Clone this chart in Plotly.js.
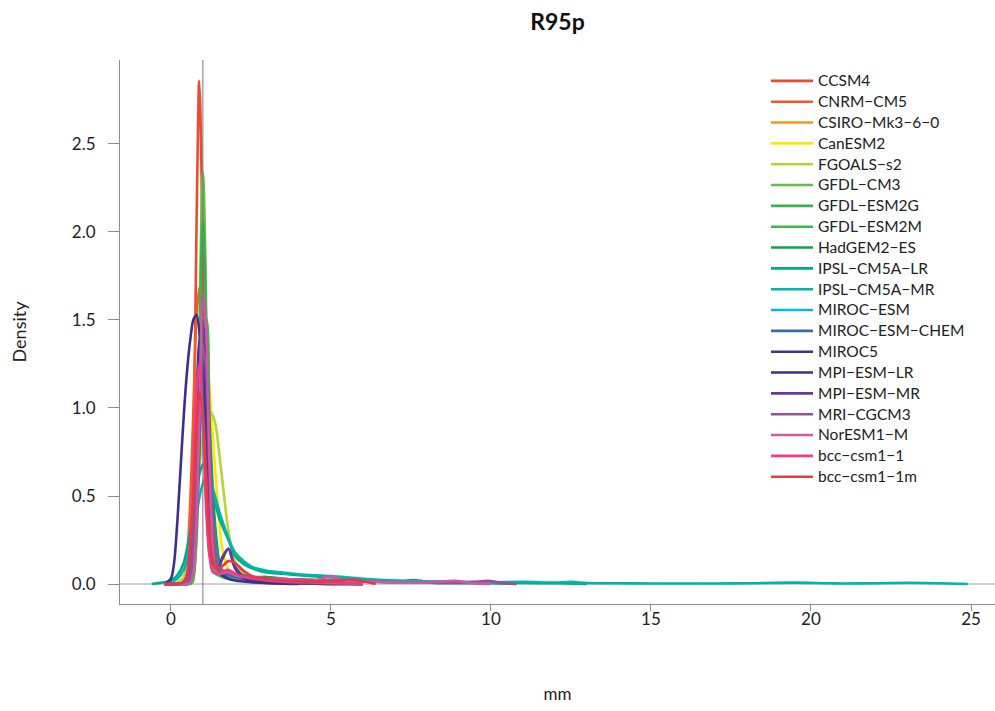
<!DOCTYPE html>
<html>
<head>
<meta charset="utf-8">
<script src="https://cdn.plot.ly/plotly-3.0.1.min.js"></script>
<style>html,body{margin:0;padding:0;background:#fff;}#chart{width:995px;height:711px;}</style>
</head>
<body>
<div id="chart"></div>
<script>
// ---- data ----
const modelNames = ["CCSM4","CNRM\u2212CM5","CSIRO\u2212Mk3\u22126\u22120","CanESM2","FGOALS\u2212s2","GFDL\u2212CM3","GFDL\u2212ESM2G","GFDL\u2212ESM2M","HadGEM2\u2212ES","IPSL\u2212CM5A\u2212LR","IPSL\u2212CM5A\u2212MR","MIROC\u2212ESM","MIROC\u2212ESM\u2212CHEM","MIROC5","MPI\u2212ESM\u2212LR","MPI\u2212ESM\u2212MR","MRI\u2212CGCM3","NorESM1\u2212M","bcc\u2212csm1\u22121","bcc\u2212csm1\u22121m"];

const xGrid = [-0.2,0,0.2,0.4,0.5,0.6,0.7,0.8,0.9,1.0,1.1,1.2,1.3,1.4,1.5,1.6,1.8,2.0,2.3,2.6,3.0,3.5,4.0,5.0,6.0];

const ccsm4X = [0.45,0.55,0.6,0.65,0.7,0.75,0.8,0.85,0.88,0.92,0.96,1.0,1.05,1.1,1.15,1.2,1.3,1.5,1.8,2.2,2.8,3.5,4.5,5.2];
const ccsm4Y = [0.01,0.05,0.13,0.33,0.71,1.31,2.02,2.62,2.86,2.7,2.3,1.75,1.1,0.62,0.33,0.18,0.1,0.06,0.04,0.03,0.02,0.01,0.005,0];

const cnrmY = [0,0,0,0.03,0.14,0.44,0.97,1.52,1.69,1.42,0.93,0.5,0.24,0.12,0.08,0.06,0.05,0.04,0.03,0.02,0.02,0.01,0.01,0.005,0];
const csiroY = [0,0,0,0.03,0.11,0.29,0.59,0.93,1.14,1.08,0.80,0.46,0.21,0.10,0.055,0.05,0.04,0.03,0.03,0.02,0.015,0.01,0.005,0.003,0];
const canesmY = [0,0,0,0,0.02,0.09,0.28,0.64,1.08,1.34,1.30,1.13,0.87,0.61,0.38,0.21,0.08,0.05,0.03,0.02,0.01,0.01,0.005,0,0];
const fgoalsY = [0,0,0.007,0.04,0.09,0.18,0.32,0.50,0.68,0.84,0.94,0.98,0.96,0.90,0.76,0.60,0.30,0.13,0.05,0.03,0.02,0.01,0.01,0.005,0];

const gfdlcm3X = [0.6,0.68,0.73,0.78,0.83,0.88,0.93,0.98,1.0,1.03,1.08,1.13,1.18,1.23,1.28,1.38,1.48,1.68,2.0,2.5,3.0,4.0,5.0];
const gfdlcm3Y = [0,0.01,0.06,0.21,0.55,1.14,1.83,2.29,2.34,2.25,1.80,1.16,0.61,0.29,0.13,0.06,0.05,0.04,0.03,0.02,0.01,0.005,0];

const gfdlesm2gX = [0.6,0.7,0.75,0.8,0.85,0.9,0.95,1.0,1.05,1.1,1.15,1.2,1.25,1.3,1.4,1.5,1.7,2.0,2.5,3,4,5,6];
const gfdlesm2gY = [0,0.05,0.16,0.40,0.82,1.37,1.87,2.07,1.90,1.46,0.95,0.52,0.27,0.13,0.07,0.05,0.04,0.03,0.02,0.01,0.005,0.003,0];

const gfdlesm2mY = [0,0,0,0,0,0,0.04,0.25,0.82,1.49,1.51,0.97,0.40,0.14,0.05,0.04,0.03,0.03,0.02,0.02,0.01,0.01,0.005,0,0];

const hadgemX = [-0.2,0,0.2,0.4,0.5,0.6,0.7,0.8,0.9,1.0,1.1,1.2,1.3,1.4,1.5,1.6,1.8,2.0,2.3,2.6,3.0,3.5,4.0,5.0,6.0,7.0,7.6,8.2,9.0,10.0,10.8];
const hadgemY = [0,0,0,0.01,0.03,0.10,0.27,0.57,0.94,1.21,1.21,0.94,0.57,0.30,0.14,0.08,0.06,0.05,0.05,0.04,0.04,0.03,0.025,0.02,0.015,0.01,0.022,0.006,0.005,0.004,0];

const ipsllrX = [-0.6,-0.4,-0.2,0,0.2,0.4,0.6,0.7,0.8,0.9,1.0,1.05,1.2,1.5,1.8,2.0,2.3,2.6,3.0,3.5,4.0,5.0,6.0,7.0,8.0,9.0,10.0,11.0,12.0,13.0];
const ipsllrY = [0,0.005,0.01,0.02,0.05,0.12,0.3,0.42,0.54,0.63,0.68,0.68,0.6,0.38,0.25,0.16,0.11,0.085,0.065,0.058,0.05,0.037,0.025,0.018,0.012,0.01,0.008,0.006,0.004,0];

const ipslmrX = [-0.2,0,0.2,0.4,0.6,0.8,0.9,1.0,1.1,1.2,1.3,1.5,1.8,2.0,2.5,3.0,3.5,4.0,5.0,6.0,7.0,8.0,9.0,10.0,11.0,12.0,12.5,13.0,14.0,15.0,16.0,17.0,18.0,19.5,20.5,21.0,22.0,23.0,24.0,24.9];
const ipslmrY = [0,0.01,0.03,0.08,0.2,0.4,0.5,0.57,0.61,0.6,0.55,0.42,0.26,0.18,0.1,0.075,0.065,0.055,0.045,0.03,0.02,0.015,0.012,0.01,0.012,0.008,0.012,0.006,0.004,0.003,0.003,0.003,0.004,0.008,0.004,0.003,0.004,0.007,0.004,0];

const mirocesmY = [0,0,0,0,0,0.03,0.14,0.45,0.97,1.32,1.17,0.71,0.29,0.12,0.06,0.05,0.05,0.04,0.03,0.02,0.015,0.01,0.005,0.003,0];
const mirocchemY = [0,0,0,0,0,0.02,0.10,0.35,0.80,1.18,1.24,0.83,0.38,0.14,0.07,0.05,0.05,0.04,0.03,0.02,0.02,0.01,0.005,0.003,0];
const miroc5Y = [0,0,0,0.01,0.04,0.19,0.54,1.06,1.39,1.24,0.74,0.30,0.12,0.11,0.10,0.14,0.20,0.09,0.03,0.02,0.01,0.01,0.005,0,0];

const mpilrX = [-0.2,0,0.1,0.2,0.3,0.4,0.5,0.6,0.7,0.8,0.9,1.0,1.1,1.2,1.3,1.4,1.5,1.6,1.8,2.0,2.5,3.0,4.0];
const mpilrY = [0,0.03,0.12,0.35,0.65,0.95,1.2,1.38,1.5,1.53,1.42,1.2,0.85,0.52,0.3,0.15,0.08,0.05,0.03,0.02,0.01,0.005,0];

const mpimrY = [0,0,0,0,0,0.03,0.15,0.54,1.16,1.5,1.16,0.54,0.18,0.11,0.10,0.15,0.20,0.10,0.04,0.03,0.02,0.01,0.005,0,0];

const mriX = [-0.2,0,0.2,0.4,0.5,0.6,0.7,0.8,0.9,1.0,1.1,1.2,1.3,1.4,1.5,1.6,1.8,2.0,2.3,2.6,3.0,3.5,4.0,5.0,6.0,7.0,8.0,9.0,9.5,9.9,10.3,10.8];
const mriY = [0,0,0,0,0.01,0.05,0.21,0.54,1.01,1.33,1.24,0.82,0.38,0.17,0.08,0.07,0.06,0.05,0.04,0.04,0.03,0.03,0.025,0.02,0.015,0.01,0.008,0.008,0.012,0.018,0.008,0];

const noresmX = [0.2,0.5,0.6,0.7,0.8,0.9,1.0,1.1,1.2,1.3,1.4,1.5,1.6,1.8,2.0,2.3,2.6,3.0,3.5,4.0,4.5,5.0,5.4,6.0,7.0,8.0,8.9,9.4,10.0];
const noresmY = [0,0,0.01,0.07,0.35,1.03,1.65,1.46,0.72,0.23,0.08,0.06,0.06,0.07,0.05,0.04,0.04,0.03,0.03,0.02,0.02,0.045,0.02,0.015,0.01,0.008,0.018,0.005,0];

const bcc1Y = [0,0,0,0.01,0.05,0.22,0.62,1.10,1.26,0.92,0.43,0.17,0.07,0.06,0.06,0.07,0.08,0.06,0.04,0.03,0.02,0.015,0.01,0.005,0];

const bcc1mX = [-0.2,0,0.2,0.4,0.5,0.6,0.7,0.8,0.9,1.0,1.1,1.2,1.3,1.4,1.5,1.6,1.8,2.0,2.3,2.6,3.0,3.5,4.0,5.0,5.7,6.4];
const bcc1mY = [0,0,0,0.01,0.05,0.19,0.48,0.86,1.09,0.98,0.63,0.28,0.14,0.09,0.09,0.10,0.13,0.12,0.07,0.04,0.03,0.02,0.015,0.015,0.025,0];

const seriesX = [ccsm4X, xGrid, xGrid, xGrid, xGrid, gfdlcm3X, gfdlesm2gX, xGrid, hadgemX, ipsllrX, ipslmrX, xGrid, xGrid, xGrid, mpilrX, xGrid, mriX, noresmX, xGrid, bcc1mX];
const seriesY = [ccsm4Y, cnrmY, csiroY, canesmY, fgoalsY, gfdlcm3Y, gfdlesm2gY, gfdlesm2mY, hadgemY, ipsllrY, ipslmrY, mirocesmY, mirocchemY, miroc5Y, mpilrY, mpimrY, mriY, noresmY, bcc1Y, bcc1mY];

const xTicks = [0,5,10,15,20,25];
const yTicks = [0,0.5,1,1.5,2,2.5];
const yTickText = ["0.0","0.5","1.0","1.5","2.0","2.5"];

// ---- styling ----
const colors = ['#EB4B30','#F25C24','#F7941D','#FFE800','#B6D433','#6ABD45','#36B44A','#3DB64B','#0BA64E','#00AC83','#00B4AE','#00BAF2','#3A67B1','#3C3591','#3D2F8E','#6A3896','#9B4D9F','#D057A4','#EE3D86','#EA3843'];
const FONT = 'Lato, "Noto Sans", sans-serif';

const traces = modelNames.map((name, i) => ({
  type: 'scatter', mode: 'lines',
  name: '<span style="font-size:15.5px">' + name + '</span>',
  x: seriesX[i], y: seriesY[i],
  line: {color: colors[i], width: 2.6, shape: 'spline', smoothing: 0.8},
  hoverinfo: 'skip'
}));

const layout = {
  width: 995, height: 711,
  margin: {l: 120, r: 0, t: 60, b: 107, pad: 0},
  paper_bgcolor: '#ffffff', plot_bgcolor: '#ffffff',
  font: {family: FONT, size: 16, color: '#222222'},
  title: {text: '<b>R95p</b>', x: 0.5, xref: 'paper', xanchor: 'center', y: 1 - 22/711, yref: 'container', yanchor: 'middle', font: {family: FONT, size: 23, color: '#111111'}},
  showlegend: true,
  legend: {x: 0.7383, y: 0.99, xanchor: 'left', yanchor: 'top', bgcolor: 'rgba(0,0,0,0)', borderwidth: 0, itemwidth: 42, font: {family: FONT, size: 13.72, color: '#222222'}, tracegroupgap: 0},
  xaxis: {
    range: [-1.59, 25.75], showgrid: false, zeroline: false, showline: true, linecolor: '#8c8c8c', linewidth: 1,
    ticks: 'outside', ticklen: 6, tickcolor: '#8c8c8c', tickwidth: 1, tickvals: xTicks, ticklabelstandoff: -6,
    tickfont: {family: FONT, size: 17, color: '#222222'}, automargin: false,
    title: {text: 'mm', font: {family: FONT, size: 17, color: '#222222'}, standoff: 59}
  },
  yaxis: {
    range: [-0.1136, 2.977], showgrid: false, zeroline: false, showline: true, linecolor: '#8c8c8c', linewidth: 1,
    ticks: 'outside', ticklen: 11, tickcolor: '#8c8c8c', tickwidth: 1, tickvals: yTicks, ticktext: yTickText, ticklabelstandoff: 9,
    tickfont: {family: FONT, size: 17, color: '#222222'}, automargin: false,
    title: {text: 'Density', font: {family: FONT, size: 18, color: '#222222'}, standoff: 40}
  },
  shapes: [
    {type: 'line', xref: 'paper', x0: 0, x1: 1, yref: 'y', y0: 0, y1: 0, line: {color: '#a0a0a0', width: 1}, layer: 'below'},
    {type: 'line', xref: 'x', x0: 1, x1: 1, yref: 'paper', y0: 0, y1: 1, line: {color: '#777777', width: 1}, layer: 'above'}
  ]
};

Plotly.newPlot('chart', traces, layout, {displayModeBar: false, staticPlot: true});
</script>
</body>
</html>
